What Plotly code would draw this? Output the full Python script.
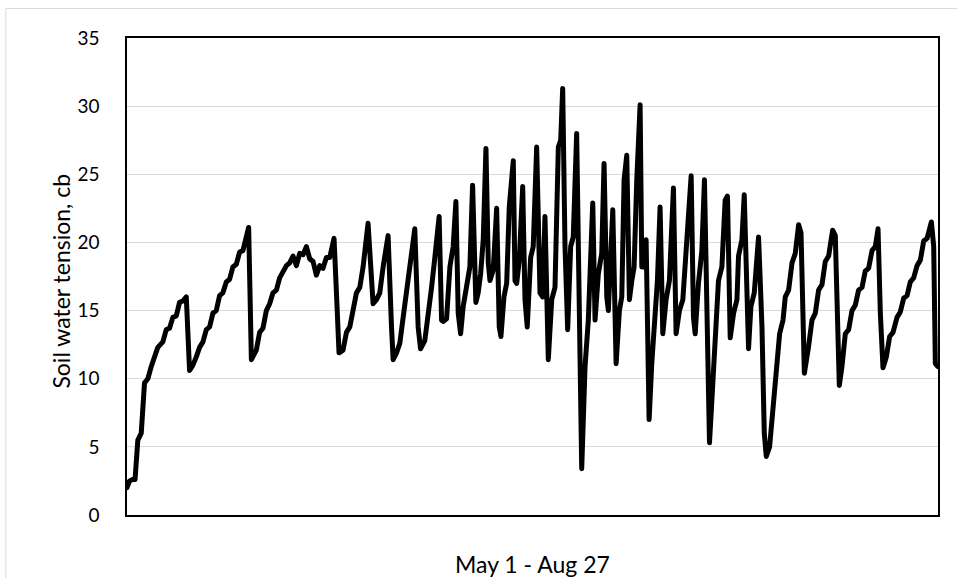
import plotly.graph_objects as go

# Day offset since May 1 (fractional) and soil water tension (cb)
days = [0.0, 0.37, 0.81, 1.18, 1.59, 2.09, 2.57, 3.06, 3.56, 4.04, 4.52, 5.26, 5.76, 6.24,
        6.73, 7.23, 7.71, 8.20, 8.70, 9.18, 9.67, 10.17, 10.65, 11.14, 11.64, 12.12, 12.60,
        13.10, 13.59, 14.07, 14.57, 15.06, 15.54, 16.04, 16.53, 17.01, 17.85, 18.25, 18.98,
        19.46, 19.95, 20.45, 20.93, 21.42, 21.92, 22.40, 22.89, 23.39, 23.87, 24.36, 24.86,
        25.34, 25.83, 26.33, 26.81, 27.30, 27.79, 28.28, 28.76, 29.26, 29.75, 30.38, 30.82,
        31.11, 31.70, 32.20, 32.69, 33.17, 33.67, 34.16, 34.64, 35.37, 35.87, 36.11, 36.61,
        37.09, 37.58, 38.31, 38.81, 39.05, 39.55, 40.03, 40.52, 41.01, 41.50, 42.23, 42.72,
        43.07, 43.70, 44.19, 44.69, 45.17, 45.80, 46.16, 46.39, 46.89, 47.38, 47.86, 48.26,
        48.60, 48.95, 49.33, 49.83, 50.31, 50.71, 51.05, 51.19, 51.53, 51.89, 52.27, 52.67,
        53.01, 53.26, 53.74, 54.24, 54.62, 54.87, 55.31, 55.71, 56.09, 56.68, 56.93, 57.18,
        57.56, 58.06, 58.40, 58.73, 59.23, 59.61, 60.11, 60.60, 60.99, 61.33, 61.82, 62.32,
        62.80, 63.29, 63.64, 63.93, 64.27, 64.66, 65.10, 65.48, 65.98, 66.37, 66.72, 67.21,
        67.69, 68.34, 68.68, 69.16, 69.66, 70.00, 70.40, 70.63, 70.99, 71.28, 71.77, 72.25,
        72.60, 72.94, 73.33, 73.72, 74.07, 74.41, 74.80, 75.29, 75.54, 75.77, 76.17, 76.36,
        76.61, 77.00, 77.49, 77.83, 78.22, 78.62, 79.10, 79.59, 80.18, 80.57, 81.06, 81.56,
        82.15, 82.78, 83.12, 83.37, 83.85, 84.35, 84.73, 85.17, 85.47, 85.96, 86.45, 86.79,
        87.29, 87.77, 88.11, 88.51, 89.00, 89.50, 89.73, 90.23, 90.57, 90.96, 91.20, 91.55,
        92.04, 92.67, 93.17, 93.51, 93.80, 94.29, 94.78, 95.37, 95.76, 96.26, 96.59, 97.08,
        97.58, 98.06, 98.55, 98.90, 99.39, 99.99, 100.51, 100.99, 101.48, 101.98, 102.46,
        102.95, 103.54, 103.93, 104.18, 104.52, 104.91, 105.40, 105.89, 106.38, 106.87,
        107.35, 107.85, 108.33, 108.82, 109.32, 109.80, 110.20, 110.54, 110.93, 111.42,
        111.91, 112.40, 112.99, 113.47, 113.96, 114.46, 114.94, 115.43, 115.93, 116.41,
        116.90, 117.40, 118.03, 118.37, 118.61, 118.95]

tension = [2.0, 2.5, 2.6, 2.6, 5.5, 6.0, 9.7, 10.0, 10.9, 11.5, 12.3, 12.7, 13.6, 13.7,
           14.5, 14.6, 15.6, 15.7, 16.0, 10.6, 11.0, 11.6, 12.3, 12.7, 13.6, 13.8, 14.8,
           15.0, 16.1, 16.3, 17.1, 17.3, 18.2, 18.4, 19.3, 19.4, 21.1, 11.4, 12.1,
           13.4, 13.7, 15.0, 15.5, 16.3, 16.5, 17.4, 17.8, 18.3, 18.5, 19.0, 18.3,
           19.2, 19.1, 19.7, 18.8, 18.6, 17.6, 18.3, 18.1, 18.9, 18.9, 20.3, 15.3,
           11.9, 12.1, 13.4, 13.8, 15.3, 16.3, 16.7, 18.2, 21.4, 16.3, 15.5, 15.8,
           16.3, 18.2, 20.5, 13.8, 11.4, 11.9, 12.6, 14.5, 16.3, 18.4, 21.0, 13.8,
           12.2, 12.8, 14.5, 16.7, 18.9, 21.9, 14.3, 14.2, 14.4, 18.2, 19.7, 23.0,
           14.8, 13.3, 15.3, 16.7, 18.2, 24.2, 16.5, 15.6, 16.3, 17.7, 20.2, 26.9,
           18.5, 17.2, 18.0, 22.5, 13.8, 13.1, 16.0, 17.0, 22.6, 26.0, 17.2, 17.0,
           18.7, 24.1, 15.8, 13.8, 18.9, 19.7, 27.0, 16.3, 16.0, 21.9, 11.4, 15.8,
           16.7, 27.0, 27.5, 31.3, 19.7, 13.6, 19.7, 20.4, 28.0, 12.3, 3.4, 10.9,
           14.3, 22.9, 14.3, 17.7, 19.2, 25.8, 16.0, 15.0, 19.2, 22.4, 11.1, 15.0,
           16.0, 24.6, 26.4, 15.8, 17.2, 18.2, 24.6, 30.1, 18.2, 18.2, 20.2, 14.8,
           7.0, 11.1, 14.1, 17.2, 22.6, 13.3, 15.8, 17.2, 24.0, 13.3, 15.0, 15.8,
           20.2, 24.9, 14.5, 13.3, 17.0, 19.4, 24.6, 13.3, 5.3, 9.7, 14.5, 17.2,
           18.2, 23.1, 23.4, 13.0, 14.8, 15.8, 19.0, 20.2, 23.5, 15.3, 12.2, 15.3,
           16.3, 20.4, 13.8, 6.0, 4.3, 5.0, 7.9, 11.4, 13.3, 14.3, 16.0, 16.5,
           18.5, 19.2, 21.3, 20.7, 10.4, 12.3, 14.3, 14.8, 16.5, 16.9, 18.6,
           19.0, 20.9, 20.5, 14.8, 9.5, 10.9, 13.3, 13.6, 15.0, 15.4,
           16.5, 16.7, 17.9, 18.1, 19.4, 19.7, 21.0, 14.8, 10.8, 11.6,
           13.1, 13.4, 14.5, 14.9, 15.9, 16.1, 17.1, 17.4, 18.3, 18.7,
           20.1, 20.3, 21.5, 19.7, 11.1, 10.9]

y_ticks = [0, 5, 10, 15, 20, 25, 30, 35]
y_title = "Soil water tension, cb"
x_title = "May 1 - Aug 27"

FONT = "Lato, 'Open Sans', sans-serif"

fig = go.Figure()
fig.add_trace(go.Scatter(
    x=days, y=tension, mode="lines",
    line=dict(color="#000000", width=5),
    hoverinfo="skip", showlegend=False,
))

fig.update_layout(
    width=957, height=578,
    margin=dict(l=127, r=19, t=38, b=63),
    paper_bgcolor="white", plot_bgcolor="white",
    font=dict(family=FONT, size=19, color="#000000"),
    xaxis=dict(range=[0, 119], showticklabels=False, ticks="", showgrid=False,
               zeroline=False, showline=True, linecolor="#000000", linewidth=1.5,
               mirror=True, fixedrange=True),
    yaxis=dict(range=[0, 35], tickvals=y_ticks, ticks="", showgrid=True,
               gridcolor="#d9d9d9", gridwidth=1, zeroline=False, showline=True,
               linecolor="#000000", linewidth=1.5, mirror=True,
               ticklabelstandoff=22, tickfont=dict(size=19, family=FONT),
               fixedrange=True),
    annotations=[
        dict(text=y_title, xref="paper", yref="paper", x=-0.081, y=0.49,
             xanchor="center", yanchor="middle", textangle=-90, showarrow=False,
             font=dict(size=23, family=FONT)),
        dict(text=x_title, xref="paper", yref="paper", x=0.5, y=-0.103,
             xanchor="center", yanchor="middle", showarrow=False,
             font=dict(size=23, family=FONT)),
    ],
    shapes=[dict(type="rect", xref="paper", yref="paper",
                 x0=-0.1494, x1=1.03, y0=-0.14, y1=1.0619,
                 line=dict(color="#d9d9d9", width=1), layer="below")],
)

fig.write_html(
    "out.html",
    config={"displayModeBar": False},
    post_script=(
        "document.body.style.margin='0';"
        "document.querySelectorAll('.js-line').forEach(function(e){"
        "e.style.strokeLinejoin='round';e.style.strokeLinecap='round';});"
    ),
)
